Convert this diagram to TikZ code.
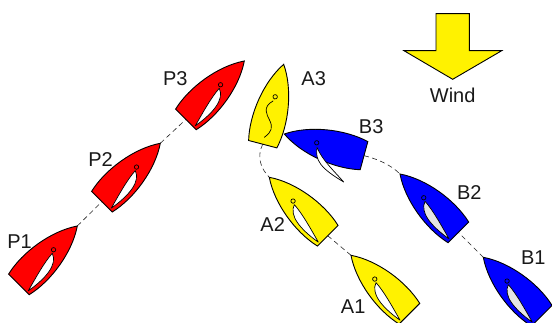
\documentclass[tikz,border=0pt]{standalone}
\usepackage{fontspec}
\setmainfont{Liberation Sans}
\usetikzlibrary{backgrounds}
\tikzset{
  outline/.style={draw=black,line width=0.9pt,line join=miter},
  thin outline/.style={draw=black,line width=0.7pt},
  link/.style={draw=black!85,line width=0.6pt,dash pattern=on 5pt off 3.5pt},
  lab/.style={inner sep=0pt,font=\fontsize{20}{24}\selectfont,text=black!90},
}
\newcommand{\hull}[4]{% name, pos, angle, fill
  \begin{scope}[shift={(#2)},rotate=#3]
    \coordinate (#1-bow) at (0,0);
    \coordinate (#1-stern) at (82.6,0);
    \draw[outline,fill=#4] (#1-bow) .. controls (22,15) and (57,20.5) .. (82.6,14.6)
      -- (82.6,-14.6) .. controls (57,-20.5) and (22,-15) .. (#1-bow) -- cycle;
    \draw[draw=black,line width=0.7pt] (33.6,0) circle (2.2);
  \end{scope}}
\newcommand{\sail}[4]{% pos, angle, side, fill
  \begin{scope}[shift={(#1)},rotate=#2,yscale=#3]
    \draw[thin outline,fill=#4,line join=round] (37,1.6) .. controls (41,13) and (58,15) .. (80.6,11.2)
      .. controls (65,7) and (50,2.5) .. (37,1.6) -- cycle;
  \end{scope}}
\begin{document}
\begin{tikzpicture}[x=1pt,y=-1pt]
\useasboundingbox (0,0) rectangle (552,323);
% boats
\hull{P1}{77.3,226}{225}{red}
\sail{77.3,226}{225}{-1}{white}
\hull{P2}{160.3,143.3}{225}{red}
\sail{160.3,143.3}{225}{-1}{white}
\hull{P3}{244.3,61}{225}{red}
\sail{244.3,61}{225}{-1}{white}
\hull{A1}{351,255.3}{-45}{yellow}
\sail{351,255.3}{-45}{1}{white}
\hull{A2}{269.3,177.3}{-45}{yellow}
\sail{269.3,177.3}{-45}{1}{white}
\hull{A3}{283.7,64.3}{255.3}{yellow}
\draw[thin outline,line cap=round] (273,101) .. controls (262,107) and (267,115) .. (269.5,120)
  .. controls (273,127) and (272,132) .. (264.3,137.3);
\hull{B1}{483.3,257.3}{-45}{blue}
\sail{483.3,257.3}{-45}{1}{black!10}
\hull{B2}{400,174}{-45}{blue}
\sail{400,174}{-45}{1}{black!10}
\hull{B3}{284.3,134}{-15.2}{blue}
\draw[thin outline,fill=white,line join=round] (317,147.3) .. controls (315,160) and (320,168) .. (343.7,182)
  .. controls (335,172) and (322,160) .. (317,147.3) -- cycle;
% connectors
\begin{scope}[on background layer]
\draw[link] (P1-bow) -- (P2-stern);
\draw[link] (P2-bow) -- (P3-stern);
\draw[link] (A1-bow) -- (A2-stern);
\draw[link] (B1-bow) -- (B2-stern);
\draw[link] (A3-stern) .. controls +(-6,12) and +(-9,-9) .. (A2-bow);
\draw[link] (B3-stern) .. controls +(12,3) and +(-10,-10) .. (B2-bow);
\end{scope}
% wind arrow
\draw[outline,fill=yellow] (436,13.7) -- (469.3,13.7) -- (469.3,50.7) -- (501.7,50.7)
  -- (452.7,79.3) -- (404,50.7) -- (436,50.7) -- cycle;
% labels
\node[lab] (lP1) at (19.5,241.5) {P1};
\node[lab] (lP2) at (100.5,160) {P2};
\node[lab] (lP3) at (175.3,78.7) {P3};
\node[lab] (lA1) at (353.2,307) {A1};
\node[lab] (lA2) at (272.7,225) {A2};
\node[lab] (lA3) at (313.7,78.8) {A3};
\node[lab] (lB1) at (533.3,257.5) {B1};
\node[lab] (lB2) at (469.3,192.7) {B2};
\node[lab] (lB3) at (371.2,127) {B3};
\node[lab] (lWind) at (452.7,95) {Wind};
\end{tikzpicture}
\end{document}
